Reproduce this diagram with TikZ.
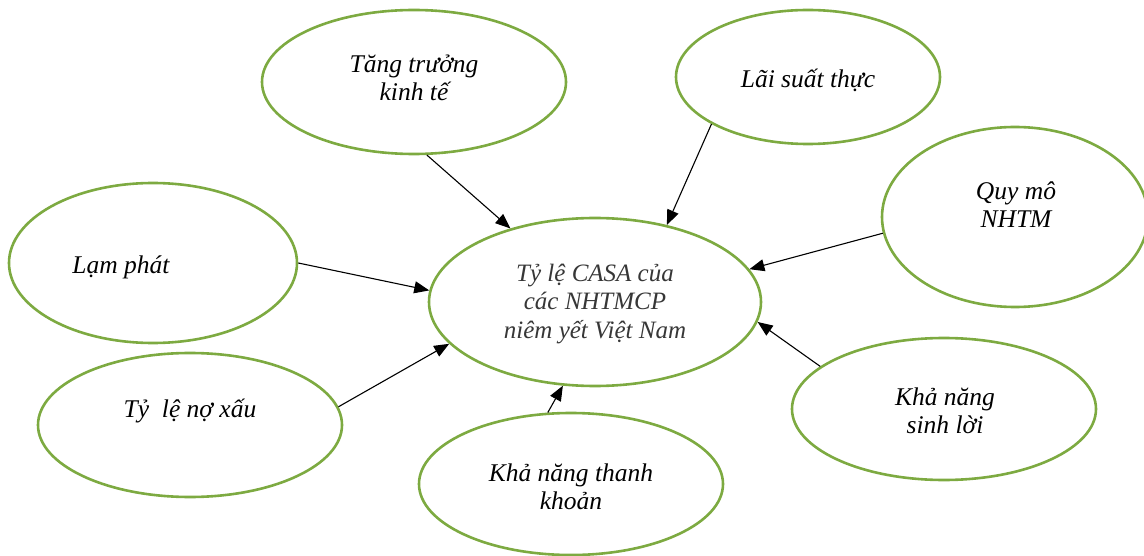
\documentclass[tikz,border=0pt]{standalone}
\usepackage{fontspec}
\setmainfont{Liberation Serif}
\usetikzlibrary{shapes.geometric,arrows.meta}
\definecolor{olivegreen}{RGB}{125,170,65}
\definecolor{centertext}{RGB}{55,55,55}
\tikzset{
  oval/.style={ellipse, draw=olivegreen, line width=2.6pt, inner sep=0pt, fill=white},
  lbl/.style={align=center, font=\fontsize{25.5}{28}\selectfont\itshape, inner sep=0pt},
  conn/.style={-{Triangle[length=15pt,width=12pt]}, line width=1.1pt, black},
}
\begin{document}
\begin{tikzpicture}[x=1pt,y=-1pt]
\useasboundingbox (0,0) rectangle (1144,556);
% ellipses
\node[oval, minimum width=332pt, minimum height=168pt] (c) at (595,302) {};
\node[oval, minimum width=304pt, minimum height=144pt] (tt) at (414,82) {};
\node[oval, minimum width=264pt, minimum height=134pt] (ls) at (808,77) {};
\node[oval, minimum width=266pt, minimum height=180pt] (qm) at (1015,217) {};
\node[oval, minimum width=288pt, minimum height=160pt] (lp) at (153,263) {};
\node[oval, minimum width=304pt, minimum height=144pt] (nx) at (190,425) {};
\node[oval, minimum width=304pt, minimum height=142pt] (tk) at (571,484) {};
\node[oval, minimum width=304pt, minimum height=142pt] (sl) at (944,409) {};
% texts
\node[lbl, text=centertext, font=\fontsize{25}{28.5}\selectfont\itshape] (tc) at (595,304) {Tỷ lệ CASA của\\các NHTMCP\\niêm yết Việt Nam};
\node[lbl] (ttt) at (414,78) {Tăng trưởng\\kinh tế};
\node[lbl] (tls) at (808,80) {Lãi suất thực};
\node[lbl] (tqm) at (1016,205) {Quy mô\\NHTM};
\node[lbl] (tlp) at (121,267) {Lạm phát};
\node[lbl] (tnx) at (190,411) {Tỷ\ \ lệ nợ xấu};
\node[lbl] (ttk) at (571,487) {Khả năng thanh\\khoản};
\node[lbl] (tsl) at (945,411) {Khả năng\\sinh lời};
% connectors
\draw[conn] (tt.-80.5) -- (c.139);
\draw[conn] (ls.206.8) -- (c.47.8);
\draw[conn] (qm.187.8) -- (c.12.4);
\draw[conn] (lp.0) -- (c.176.3);
\draw[conn] (nx.7.2) -- (c.196.3);
\draw[conn] (tk.108.4) -- (c.-111.5);
\draw[conn] (sl.161) -- (c.-7.9);
\end{tikzpicture}
\end{document}
